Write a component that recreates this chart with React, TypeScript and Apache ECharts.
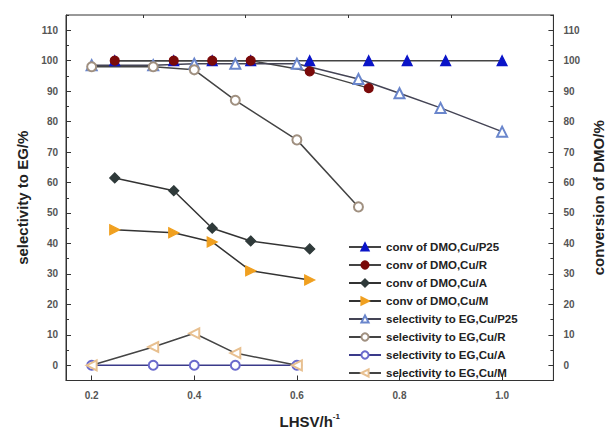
import React, { useEffect, useRef } from "react";
import * as echarts from "echarts";

const convX = [0.245, 0.36, 0.435, 0.51, 0.625, 0.74, 0.815, 0.89, 1.0];
const convP25 = [100, 100, 100, 100, 100, 100, 100, 100, 100];
const convR = [100, 100, 100, 100, 96.5, 91];
const convA = [61.5, 57.3, 45, 40.8, 38.2];
const convM = [44.5, 43.5, 40.5, 31, 28];

const selX = [0.2, 0.32, 0.4, 0.48, 0.6, 0.72, 0.8, 0.88, 1.0];
const selP25 = [98.5, 98.5, 99, 99, 99, 94, 89.3, 84.5, 76.7];
const selR = [98, 98, 97, 87, 74, 52];
const selA = [0, 0, 0, 0, 0];
const selM = [0, 6, 10.5, 4, 0];

const yMajor = [0, 10, 20, 30, 40, 50, 60, 70, 80, 90, 100, 110];
const yMinor = [-5, 5, 15, 25, 35, 45, 55, 65, 75, 85, 95, 105, 115];
const xMajor = [0.2, 0.4, 0.6, 0.8, 1.0];
const xMinor = [0.3, 0.5, 0.7, 0.9];

const legendNames = [
  "conv of DMO,Cu/P25",
  "conv of DMO,Cu/R",
  "conv of DMO,Cu/A",
  "conv of DMO,Cu/M",
  "selectivity to EG,Cu/P25",
  "selectivity to EG,Cu/R",
  "selectivity to EG,Cu/A",
  "selectivity to EG,Cu/M",
];

const pairs = (xs: number[], ys: number[]) => ys.map((y, i) => [xs[i], y]);

export default function App() {
  const ref = useRef<HTMLDivElement>(null);
  useEffect(() => {
    document.body.style.margin = "0";
    const chart = echarts.init(ref.current!, null, { renderer: "svg" });
    const font = "Arial, 'Liberation Sans', sans-serif";
    const mk = (
      name: string,
      data: number[][],
      symbol: string,
      color: string,
      lineColor: string,
      size: number,
      rotate = 0
    ) => ({
      name,
      type: "line",
      data,
      symbol,
      symbolSize: size,
      symbolRotate: rotate,
      xAxisIndex: 0,
      yAxisIndex: 0,
      itemStyle: { color, borderColor: color, borderWidth: 1.2 },
      lineStyle: { color: lineColor, width: 1.5 },
      z: 3,
    });
    const labelStyle = {
      color: "#555",
      fontSize: 10,
      fontWeight: "bold",
      fontFamily: font,
    };
    const titleStyle = { fontSize: 15, fontWeight: "bold", color: "#222", fontFamily: font };
    const yBase = (position: string, major: boolean, name = "", nameGap = 0, margin = 8) => ({
      type: "value",
      position,
      min: -5,
      max: 115,
      interval: 5,
      splitLine: { show: false },
      axisLine: { show: major, lineStyle: { color: "#333", width: 1 } },
      axisTick: {
        show: true,
        inside: true,
        length: major ? 5 : 3,
        customValues: major ? yMajor : yMinor,
        lineStyle: { color: "#333" },
      },
      axisLabel: major
        ? { ...labelStyle, customValues: yMajor, margin }
        : { show: false },
      name,
      nameLocation: "middle",
      nameGap,
      nameTextStyle: titleStyle,
    });
    const xBase = (major: boolean) => ({
      type: "value",
      min: 0.15,
      max: 1.1,
      splitLine: { show: false },
      axisLine: { show: major, onZero: false, lineStyle: { color: "#333" } },
      axisTick: {
        show: true,
        inside: true,
        length: major ? 5 : 3,
        customValues: major ? xMajor : xMinor,
        lineStyle: { color: "#333" },
      },
      axisLabel: major
        ? {
            ...labelStyle,
            customValues: xMajor,
            margin: 10,
            formatter: (v: number) => v.toFixed(1),
          }
        : { show: false },
      name: major ? "{a|LHSV/h}{b|-1}" : "",
      nameLocation: "middle",
      nameGap: 32,
      nameTextStyle: {
        rich: {
          a: titleStyle,
          b: { fontSize: 8, fontWeight: "bold", color: "#222", fontFamily: font, verticalAlign: "top", padding: [0, 0, 10, 0] },
        },
      },
    });
    chart.setOption({
      animation: false,
      backgroundColor: "#fff",
      grid: {
        left: 66,
        right: 52,
        top: 15,
        bottom: 51,
        show: true,
        borderColor: "#333",
        borderWidth: 1,
      },
      legend: {
        orient: "vertical",
        left: 343,
        top: 236,
        itemWidth: 32,
        itemHeight: 9,
        itemGap: 6,
        data: legendNames,
        textStyle: { fontSize: 11.5, fontWeight: "bold", color: "#222", fontFamily: font },
      },
      xAxis: [xBase(true), xBase(false)],
      yAxis: [
        yBase("left", true, "selectivity to EG/%", 35, 8),
        yBase("right", true, "conversion of DMO/%", 31, 10),
        yBase("left", false),
        yBase("right", false),
      ],
      series: [
        mk(legendNames[0], pairs(convX, convP25), "triangle", "#0a14c8", "#444", 10),
        mk(legendNames[1], pairs(convX, convR), "circle", "#7a0a0a", "#444", 9),
        mk(legendNames[2], pairs(convX, convA), "diamond", "#2f3a3a", "#333", 10),
        mk(legendNames[3], pairs(convX, convM), "triangle", "#f0a020", "#333", 10, -90),
        mk(legendNames[4], pairs(selX, selP25), "emptyTriangle", "#6a86cc", "#445", 10),
        mk(legendNames[5], pairs(selX, selR), "emptyCircle", "#a09080", "#444", 9),
        mk(legendNames[6], pairs(selX, selA), "emptyCircle", "#6a6acc", "#3a3a8a", 9),
        mk(legendNames[7], pairs(selX, selM), "emptyTriangle", "#e8c090", "#444", 10, 90),
      ],
    });
    return () => chart.dispose();
  }, []);
  return <div ref={ref} style={{ width: 614, height: 434 }} />;
}
